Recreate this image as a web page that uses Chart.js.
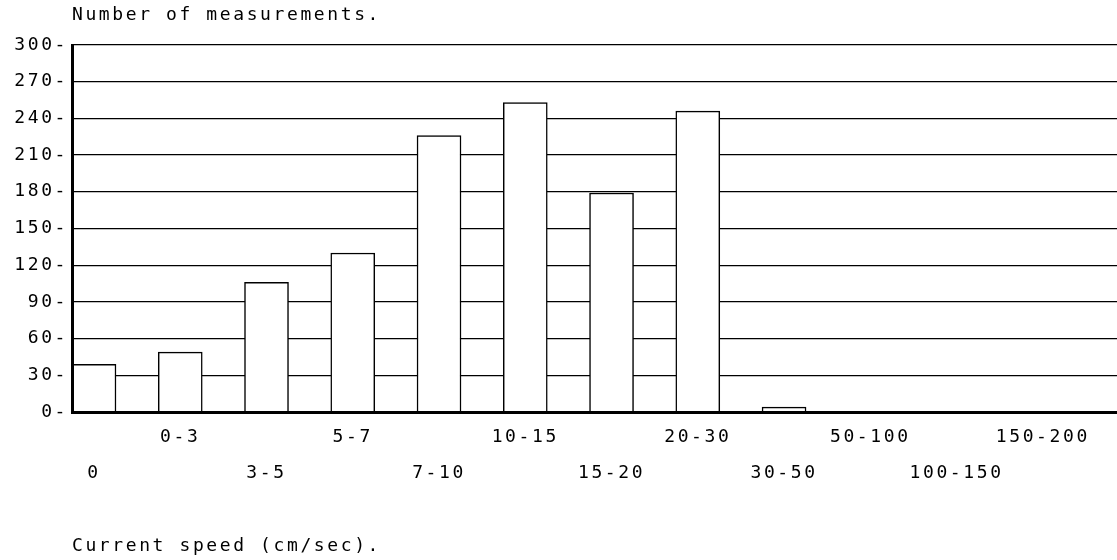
<!DOCTYPE html>
<html><head><meta charset="utf-8">
<script src="https://cdn.jsdelivr.net/npm/chart.js@4"></script>
<style>html,body{margin:0;padding:0;background:#fff}canvas{display:block}</style>
</head><body>
<canvas id="c" width="1117" height="560"></canvas>
<script>
const speedClasses = ['0','0-3','3-5','5-7','7-10','10-15','15-20','20-30','30-50','50-100','100-150','150-200'];
const measurementCounts = [39, 49, 106, 130, 226, 253, 179, 246, 4, 0, 0, 0];
const yAxisMin = 0, yAxisMax = 300, yAxisStep = 30;
const yAxisTitle = 'Number of measurements.';
const xAxisTitle = 'Current speed (cm/sec).';

const FONT = {family: "'DejaVu Sans Mono', monospace", size: 18};
const spacing = {
  id: 'spacing',
  beforeUpdate(c) { c.ctx.letterSpacing = '2.6px'; },
  beforeDraw(c) { c.ctx.letterSpacing = '2.6px'; }
};

new Chart(document.getElementById('c'), {
  type: 'bar',
  data: {
    datasets: [{
      data: speedClasses.map((c, i) => ({x: i, y: measurementCounts[i]})),
      backgroundColor: '#ffffff',
      borderColor: '#000000',
      borderWidth: 1.5,
      barThickness: 44,
      xAxisID: 'x',
      yAxisID: 'y'
    }]
  },
  options: {
    responsive: false,
    devicePixelRatio: 1,
    animation: false,
    layout: {padding: 0},
    plugins: {legend: {display: false}, tooltip: {enabled: false}},
    scales: {
      x: {
        type: 'linear', position: 'bottom', offset: false,
        min: -0.255, max: 11.86,
        afterBuildTicks: s => { s.ticks = speedClasses.map((_, i) => ({value: i})); },
        afterFit: s => { s.height = 148; },
        grid: {display: false, drawTicks: false, offset: false},
        border: {display: true, color: '#000', width: 3, z: 1},
        ticks: {
          autoSkip: false, maxRotation: 0, minRotation: 0, padding: 7, color: '#000',
          font: {...FONT, lineHeight: '36px'},
          callback: (v, i) => (i % 2 ? [speedClasses[i], ''] : ['', speedClasses[i]])
        },
        title: {display: true, text: xAxisTitle, align: 'start', color: '#000', font: FONT, padding: {top: 0, bottom: 3}}
      },
      x2: {
        type: 'linear', position: 'top', min: 0, max: 1, offset: false,
        grid: {display: false, drawTicks: false},
        border: {display: false},
        ticks: {display: false},
        afterFit: s => { s.height = 45; },
        title: {display: true, text: yAxisTitle, align: 'start', color: '#000', font: FONT, padding: {top: 5, bottom: 0}}
      },
      y: {
        min: yAxisMin, max: yAxisMax,
        afterFit: s => { s.width = 72; },
        ticks: {stepSize: yAxisStep, padding: 4, color: '#000', font: FONT, callback: v => v + '-'},
        grid: {color: '#000', lineWidth: 1.3, drawTicks: false},
        border: {color: '#000', width: 3, z: 1}
      }
    }
  },
  plugins: [spacing]
});
</script>
</body></html>
